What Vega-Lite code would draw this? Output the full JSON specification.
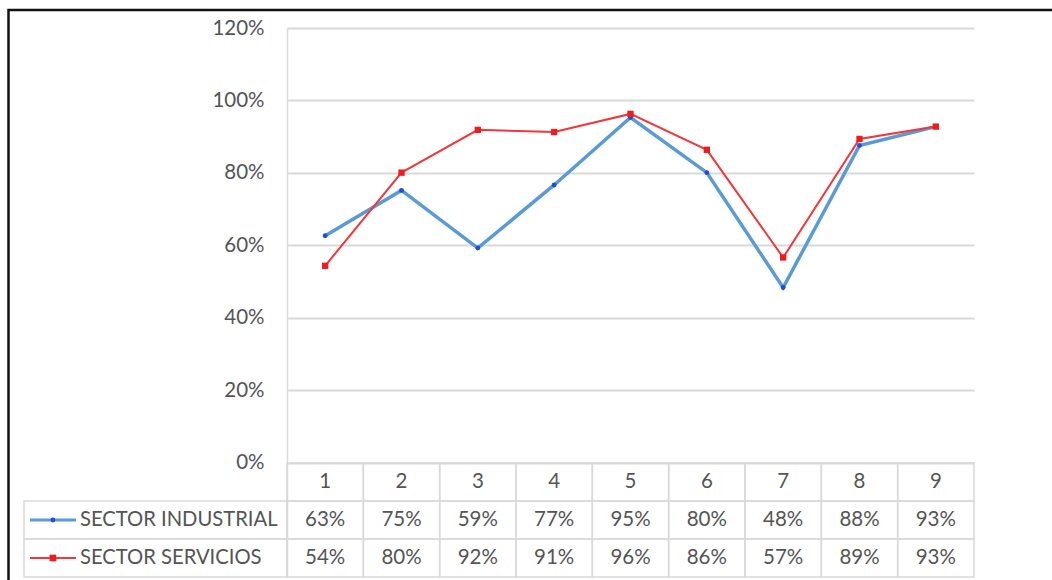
{
  "$schema": "https://vega.github.io/schema/vega-lite/v6.json",
  "width": 687,
  "height": 549,
  "autosize": {"type": "none"},
  "padding": {"left": 287, "top": 28, "right": 78, "bottom": 3},
  "background": "white",
  "config": {"view": {"stroke": null}, "font": "Lato"},
  "data": {
    "values": [
      {"serie": "SECTOR INDUSTRIAL", "col": 1, "v": 0.627},
      {"serie": "SECTOR INDUSTRIAL", "col": 2, "v": 0.752},
      {"serie": "SECTOR INDUSTRIAL", "col": 3, "v": 0.593},
      {"serie": "SECTOR INDUSTRIAL", "col": 4, "v": 0.767},
      {"serie": "SECTOR INDUSTRIAL", "col": 5, "v": 0.953},
      {"serie": "SECTOR INDUSTRIAL", "col": 6, "v": 0.801},
      {"serie": "SECTOR INDUSTRIAL", "col": 7, "v": 0.484},
      {"serie": "SECTOR INDUSTRIAL", "col": 8, "v": 0.876},
      {"serie": "SECTOR INDUSTRIAL", "col": 9, "v": 0.928},
      {"serie": "SECTOR SERVICIOS", "col": 1, "v": 0.544},
      {"serie": "SECTOR SERVICIOS", "col": 2, "v": 0.801},
      {"serie": "SECTOR SERVICIOS", "col": 3, "v": 0.919},
      {"serie": "SECTOR SERVICIOS", "col": 4, "v": 0.913},
      {"serie": "SECTOR SERVICIOS", "col": 5, "v": 0.963},
      {"serie": "SECTOR SERVICIOS", "col": 6, "v": 0.864},
      {"serie": "SECTOR SERVICIOS", "col": 7, "v": 0.567},
      {"serie": "SECTOR SERVICIOS", "col": 8, "v": 0.894},
      {"serie": "SECTOR SERVICIOS", "col": 9, "v": 0.928}
    ]
  },
  "resolve": {"scale": {"x": "independent", "y": "independent"}},
  "layer": [
    {
      "encoding": {
        "x": {"field": "col", "type": "ordinal", "scale": {"type": "band", "paddingInner": 0, "paddingOuter": 0}, "axis": null},
        "y": {
          "field": "v", "type": "quantitative",
          "scale": {"domain": [-0.3145, 1.2], "nice": false, "zero": false},
          "axis": {
            "values": [0, 0.2, 0.4, 0.6, 0.8, 1, 1.2], "format": ".0%", "title": null,
            "grid": true, "gridColor": "#d9d9d9", "gridWidth": 2,
            "domain": true, "domainColor": "#d9d9d9", "domainWidth": 1.5,
            "ticks": false, "labelPadding": 23, "labelFontSize": 20.5, "labelFont": "Lato", "labelColor": "#555555"
          }
        }
      },
      "layer": [
        {"transform": [{"filter": "datum.serie === 'SECTOR INDUSTRIAL'"}], "mark": {"type": "line", "color": "#5b9bd5", "strokeWidth": 3.5}},
        {"transform": [{"filter": "datum.serie === 'SECTOR SERVICIOS'"}], "mark": {"type": "line", "color": "#f2363a", "strokeWidth": 2}},
        {"transform": [{"filter": "datum.serie === 'SECTOR INDUSTRIAL'"}], "mark": {"type": "point", "shape": "circle", "filled": true, "opacity": 1, "size": 24, "color": "#1f4fd8"}},
        {"transform": [{"filter": "datum.serie === 'SECTOR SERVICIOS'"}], "mark": {"type": "point", "shape": "square", "filled": true, "opacity": 1, "size": 40, "color": "#ee1c1c"}}
      ]
    },
    {
      "encoding": {
        "x": {"field": "col", "type": "ordinal", "scale": {"type": "band", "paddingInner": 0, "paddingOuter": 0}, "axis": null}
      },
      "layer": [
        {
          "transform": [{"filter": "datum.serie === 'SECTOR INDUSTRIAL'"}],
          "mark": {"type": "rect", "fill": "transparent", "stroke": "#d9d9d9", "strokeWidth": 1.5},
          "encoding": {"y": {"datum": "h", "type": "nominal", "scale": {"type": "band", "domain": ["h", "SECTOR INDUSTRIAL", "SECTOR SERVICIOS"], "range": [{"expr": "height * 0.79235"}, {"expr": "height"}], "paddingInner": 0, "paddingOuter": 0}, "axis": null}}
        },
        {
          "mark": {"type": "rect", "fill": "transparent", "stroke": "#d9d9d9", "strokeWidth": 1.5},
          "encoding": {"y": {"field": "serie", "type": "nominal", "axis": null}}
        },
        {
          "transform": [{"filter": "datum.serie === 'SECTOR INDUSTRIAL'"}],
          "mark": {"type": "text", "font": "Lato", "fontSize": 20.5, "color": "#555555"},
          "encoding": {"y": {"datum": "h", "type": "nominal"}, "text": {"field": "col"}}
        },
        {
          "mark": {"type": "text", "font": "Lato", "fontSize": 20.5, "color": "#555555"},
          "encoding": {"y": {"field": "serie", "type": "nominal"}, "text": {"field": "v", "format": ".0%"}}
        }
      ]
    },
    {
      "transform": [{"filter": "datum.col === 1"}],
      "encoding": {
        "y": {"field": "serie", "type": "nominal", "scale": {"type": "band", "domain": ["h", "SECTOR INDUSTRIAL", "SECTOR SERVICIOS"], "range": [{"expr": "height * 0.79235"}, {"expr": "height"}], "paddingInner": 0, "paddingOuter": 0}, "axis": null}
      },
      "layer": [
        {
          "mark": {"type": "rect", "fill": "transparent", "stroke": "#d9d9d9", "strokeWidth": 1.5},
          "encoding": {
            "x": {"datum": 0, "type": "quantitative", "scale": {"domain": [1, 3.6122], "nice": false, "zero": false}, "axis": null},
            "x2": {"datum": 1}
          }
        },
        {
          "transform": [{"filter": "datum.serie === 'SECTOR INDUSTRIAL'"}],
          "mark": {"type": "rule", "color": "#5b9bd5", "strokeWidth": 3},
          "encoding": {"x": {"datum": 0.0228, "type": "quantitative"}, "x2": {"datum": 0.1977}}
        },
        {
          "transform": [{"filter": "datum.serie === 'SECTOR SERVICIOS'"}],
          "mark": {"type": "rule", "color": "#f2363a", "strokeWidth": 2},
          "encoding": {"x": {"datum": 0.0228, "type": "quantitative"}, "x2": {"datum": 0.1977}}
        },
        {
          "transform": [{"filter": "datum.serie === 'SECTOR INDUSTRIAL'"}],
          "mark": {"type": "point", "shape": "circle", "filled": true, "opacity": 1, "size": 24, "color": "#1f4fd8"},
          "encoding": {"x": {"datum": 0.11, "type": "quantitative"}}
        },
        {
          "transform": [{"filter": "datum.serie === 'SECTOR SERVICIOS'"}],
          "mark": {"type": "point", "shape": "square", "filled": true, "opacity": 1, "size": 44, "color": "#ee1c1c"},
          "encoding": {"x": {"datum": 0.11, "type": "quantitative"}}
        },
        {
          "mark": {"type": "text", "align": "left", "font": "Lato", "fontSize": 20.2, "color": "#555555"},
          "encoding": {"x": {"datum": 0.213, "type": "quantitative"}, "text": {"field": "serie"}}
        }
      ]
    },
    {
      "data": {"values": [{"frame": "chart area"}]},
      "mark": {"type": "rect", "fill": "transparent", "stroke": "#111111", "strokeWidth": 2.5},
      "encoding": {
        "x": {"datum": 0, "type": "quantitative", "scale": {"domain": [0.255155, 0.884561], "nice": false, "zero": false}, "axis": null},
        "x2": {"datum": 1},
        "y": {"datum": 0, "type": "quantitative", "scale": {"domain": [0.029508, 0.929508], "reverse": true, "nice": false, "zero": false}, "axis": null},
        "y2": {"datum": 1}
      }
    }
  ]
}
